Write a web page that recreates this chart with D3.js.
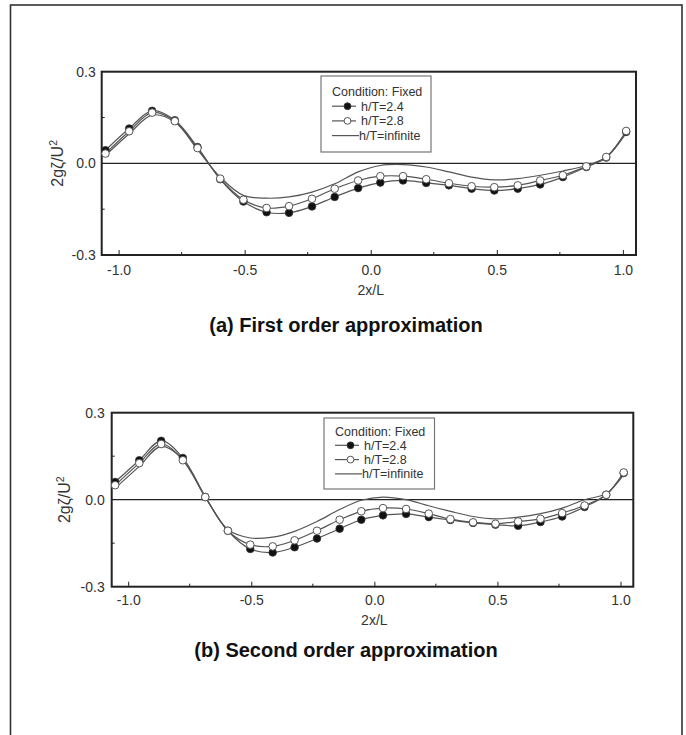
<!DOCTYPE html>
<html>
<head>
<meta charset="utf-8">
<script src="https://cdn.jsdelivr.net/npm/d3@7"></script>
<style>
  body { margin: 0; background: #fff; }
  svg text { font-family: "Liberation Sans", Arial, sans-serif; }
</style>
</head>
<body>
<script>
// data
var xA = [-1.052,-0.958,-0.867,-0.777,-0.687,-0.597,-0.505,-0.413,-0.324,-0.233,-0.143,-0.050,
          0.038,0.128,0.220,0.310,0.400,0.490,0.583,0.672,0.762,0.855,0.934,1.013];
var a24 = [0.043,0.114,0.172,0.141,0.053,-0.052,-0.125,-0.160,-0.162,-0.141,-0.110,-0.081,
           -0.063,-0.056,-0.064,-0.072,-0.083,-0.089,-0.083,-0.069,-0.045,-0.012,0.019,0.103];
var a28 = [0.032,0.105,0.166,0.138,0.050,-0.050,-0.119,-0.146,-0.140,-0.116,-0.083,-0.056,
           -0.042,-0.042,-0.052,-0.065,-0.075,-0.078,-0.072,-0.056,-0.039,-0.010,0.021,0.106];
var aInf = [0.026,0.097,0.158,0.135,0.045,-0.045,-0.105,-0.114,-0.110,-0.094,-0.067,-0.028,
            -0.007,-0.004,-0.012,-0.028,-0.045,-0.054,-0.050,-0.039,-0.025,-0.007,0.021,0.099];

var xB = [-1.053,-0.955,-0.866,-0.778,-0.687,-0.595,-0.504,-0.413,-0.324,-0.233,-0.141,-0.053,
          0.035,0.129,0.221,0.309,0.401,0.492,0.584,0.675,0.763,0.854,0.942,1.013];
var b24 = [0.061,0.136,0.203,0.144,0.009,-0.107,-0.170,-0.182,-0.164,-0.134,-0.100,-0.069,
           -0.054,-0.049,-0.060,-0.070,-0.080,-0.086,-0.090,-0.077,-0.058,-0.025,0.017,0.092];
var b28 = [0.050,0.126,0.192,0.136,0.009,-0.107,-0.155,-0.161,-0.140,-0.107,-0.069,-0.040,
           -0.029,-0.032,-0.048,-0.067,-0.078,-0.083,-0.075,-0.066,-0.046,-0.020,0.017,0.094];
var bInf = [0.040,0.115,0.184,0.140,0.011,-0.103,-0.132,-0.129,-0.109,-0.075,-0.034,-0.002,
            0.009,0.000,-0.021,-0.040,-0.058,-0.066,-0.060,-0.048,-0.029,0.000,0.021,0.086];

var xMajor = [-1, -0.5, 0, 0.5, 1];
var xMinor = [-0.75, -0.25, 0.25, 0.75];
var yMajor = [-0.3, 0, 0.3];
var yMinor = [-0.15, 0.15];
var legendTitle = "Condition: Fixed";
var seriesNames = ["h/T=2.4", "h/T=2.8", "h/T=infinite"];
var titles = ["(a) First order approximation", "(b) Second order approximation"];

var width = 686, height = 735;
var svg = d3.select("body").append("svg")
    .attr("width", width)
    .attr("height", height);

// outer border
svg.append("rect")
    .attr("x", 10.5).attr("y", 5)
    .attr("width", 671.5).attr("height", 745)
    .attr("fill", "none").attr("stroke", "#333").attr("stroke-width", 1.6);

// plain hyphen for negatives, like the original
var fmt = d => d3.format(".1f")(d).replace("\u2212", "-");

function drawPanel(p) {
    var x = d3.scaleLinear().domain([-1.067, 1.052]).range([p.left, p.right]);
    var y = d3.scaleLinear().domain([-0.3, 0.3]).range([p.bottom, p.top]);
    var g = svg.append("g");

    // zero line
    g.append("line")
        .attr("x1", p.left).attr("x2", p.right)
        .attr("y1", y(0)).attr("y2", y(0))
        .attr("stroke", "#222").attr("stroke-width", 1.3);

    // axes
    var xAx = g.append("g")
        .attr("transform", "translate(0," + p.bottom + ")")
        .call(d3.axisBottom(x).tickValues(xMajor).tickSizeInner(-5).tickSizeOuter(0)
              .tickPadding(p.xPad).tickFormat(fmt));
    xAx.append("g").selectAll("line").data(xMinor).enter().append("line")
        .attr("x1", d => x(d)).attr("x2", d => x(d))
        .attr("y1", 0).attr("y2", -3).attr("stroke", "#222");

    var yAx = g.append("g")
        .attr("transform", "translate(" + p.left + ",0)")
        .call(d3.axisLeft(y).tickValues(yMajor).tickSizeInner(0).tickSizeOuter(0)
              .tickPadding(p.yPad).tickFormat(fmt));
    yAx.append("g").selectAll("line").data(yMinor).enter().append("line")
        .attr("x1", 0).attr("x2", 3)
        .attr("y1", d => y(d)).attr("y2", d => y(d)).attr("stroke", "#222");

    g.selectAll(".domain").remove();
    g.selectAll(".tick text").attr("font-size", 14).attr("fill", "#333")
        .attr("font-family", "'Liberation Sans', Arial, sans-serif");
    g.selectAll(".tick line").attr("stroke", "#222");

    // frame
    g.append("rect")
        .attr("x", p.left).attr("y", p.top)
        .attr("width", p.right - p.left).attr("height", p.bottom - p.top)
        .attr("fill", "none").attr("stroke", "#222").attr("stroke-width", 2);

    // axis titles
    var yl = g.append("text")
        .attr("transform", "translate(" + p.yLabX + "," + y(0) + ") rotate(-90)")
        .attr("text-anchor", "middle")
        .attr("font-size", 16).attr("fill", "#333");
    yl.append("tspan").text("2g\u03B6/U");
    yl.append("tspan").attr("dy", -6).attr("font-size", 10.5).text("2");

    g.append("text")
        .attr("x", x(0)).attr("y", p.xLabY)
        .attr("text-anchor", "middle")
        .attr("font-size", 14).attr("fill", "#333")
        .text("2x/L");

    g.append("text")
        .attr("x", 346).attr("y", p.titleY)
        .attr("text-anchor", "middle")
        .attr("font-size", 20).attr("font-weight", "bold").attr("fill", "#111")
        .text(p.title);

    // curves
    var line = d3.line()
        .x(d => x(d[0])).y(d => y(d[1]))
        .curve(d3.curveCatmullRom.alpha(0.5));

    var sInf = p.xs.map((v, i) => [v, p.sInf[i]]);
    var s28 = p.xs.map((v, i) => [v, p.s28[i]]);
    var s24 = p.xs.map((v, i) => [v, p.s24[i]]);

    [sInf, s28, s24].forEach(function(s) {
        g.append("path").datum(s)
            .attr("d", line)
            .attr("fill", "none").attr("stroke", "#555").attr("stroke-width", 1.2);
    });

    g.selectAll(".m24").data(s24).enter().append("circle")
        .attr("cx", d => x(d[0])).attr("cy", d => y(d[1])).attr("r", 3.8)
        .attr("fill", "#111").attr("stroke", "#333").attr("stroke-width", 0.8);

    g.selectAll(".m28").data(s28).enter().append("circle")
        .attr("cx", d => x(d[0])).attr("cy", d => y(d[1])).attr("r", 3.8)
        .attr("fill", "#fff").attr("stroke", "#555").attr("stroke-width", 1);

    // legend
    var L = p.legend;
    var lg = g.append("g").attr("transform", "translate(" + L.x + "," + L.y + ")");
    lg.append("rect")
        .attr("width", L.w).attr("height", L.h)
        .attr("fill", "#fff").attr("stroke", "#777").attr("stroke-width", 1.2);
    lg.append("text")
        .attr("x", 11).attr("y", L.row0)
        .attr("font-size", 12.5).attr("fill", "#333")
        .text(legendTitle);
    seriesNames.forEach(function(name, i) {
        var ry = L.row0 + L.step * (i + 1) - 4.5;
        lg.append("line")
            .attr("x1", 11).attr("x2", i === 2 ? 38 : 35)
            .attr("y1", ry).attr("y2", ry)
            .attr("stroke", "#555").attr("stroke-width", 1.2);
        if (i < 2) {
            lg.append("circle")
                .attr("cx", 26.5).attr("cy", ry).attr("r", 3.4)
                .attr("fill", i === 0 ? "#111" : "#fff")
                .attr("stroke", i === 0 ? "#333" : "#555");
        }
        lg.append("text")
            .attr("x", i === 2 ? 38 : 40).attr("y", L.row0 + L.step * (i + 1))
            .attr("font-size", 12.5).attr("fill", "#333")
            .text(name);
    });
}

drawPanel({
    left: 101.7, right: 636, top: 71.7, bottom: 255,
    xPad: 10, yPad: 6, yLabX: 63, xLabY: 295, titleY: 332,
    title: titles[0], xs: xA, s24: a24, s28: a28, sInf: aInf,
    legend: {x: 321, y: 76, w: 110, h: 76, row0: 20, step: 14.7}
});

drawPanel({
    left: 111.7, right: 633.3, top: 412.7, bottom: 586.7,
    xPad: 8, yPad: 7, yLabX: 70, xLabY: 625, titleY: 657,
    title: titles[1], xs: xB, s24: b24, s28: b28, sInf: bInf,
    legend: {x: 324, y: 418, w: 110.5, h: 71, row0: 17.5, step: 14.3}
});
</script>
</body>
</html>
